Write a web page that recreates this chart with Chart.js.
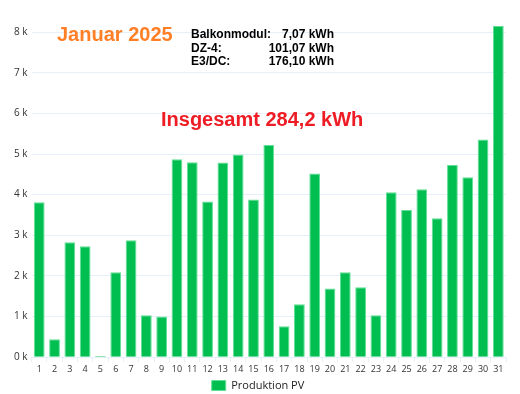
<!DOCTYPE html>
<html>
<head>
<meta charset="utf-8">
<script src="https://cdn.jsdelivr.net/npm/chart.js@4"></script>
<style>
  body { margin: 0; background: #fff; }
  #wrap { width: 520px; height: 394px; position: relative; }
</style>
</head>
<body>
<div id="wrap"><canvas id="barCanvas"></canvas></div>
<script>
// Tage im Januar
let tage = ["1","2","3","4","5","6","7","8","9","10","11","12","13","14","15","16",
            "17","18","19","20","21","22","23","24","25","26","27","28","29","30","31"]

// Produktion PV in Wh
let produktion = [3810, 440, 2830, 2730, 30, 2090, 2880, 1030, 1000, 4870, 4800, 3830, 4790, 4990, 3880, 5220,
                  760, 1300, 4520, 1690, 2090, 1720, 1030, 4060, 3620, 4130, 3420, 4730, 4430, 5360, 8150]

// Striche der y-Achse
let yTicks = [0, 1000, 2000, 3000, 4000, 5000, 6000, 7000, 8000]

let ueberschrift = "Januar 2025"
let gesamt = "Insgesamt 284,2 kWh"
let quellen = ["Balkonmodul:", "DZ-4:", "E3/DC:"]
let quellenWerte = ["7,07 kWh", "101,07 kWh", "176,10 kWh"]

let gruen = "#00bf50"
let gitter = "#e6f0fb"

// Texte oben im Diagramm
let textPlugin = {
    id: "texte",
    afterDraw(chart) {
        let ctx = chart.ctx
        ctx.save()
        ctx.textBaseline = "alphabetic"

        ctx.font = "bold 20px 'Liberation Sans', Arial, sans-serif"
        ctx.fillStyle = "#ff7f27"
        ctx.textAlign = "left"
        ctx.fillText(ueberschrift, 57, 41)

        ctx.font = "bold 12px 'Liberation Sans', Arial, sans-serif"
        ctx.fillStyle = "#000"
        for (let i = 0; i < quellen.length; i++) {
            let y = 38 + i * 13.7
            ctx.textAlign = "left"
            ctx.fillText(quellen[i], 191, y)
            ctx.textAlign = "right"
            ctx.fillText(quellenWerte[i], 334, y)
        }

        ctx.font = "bold 20px 'Liberation Sans', Arial, sans-serif"
        ctx.fillStyle = "#ee1c25"
        ctx.textAlign = "left"
        ctx.fillText(gesamt, 161, 126)
        ctx.restore()
    }
}

let barCanvas = document.getElementById("barCanvas").getContext('2d')

let barChart = new Chart(barCanvas, {
    type: 'bar',
    data: {
        labels: tage,
        datasets: [{
            label: "Produktion PV",
            data: produktion,
            backgroundColor: gruen,
            borderColor: "#5fe096",
            borderWidth: 1,
            categoryPercentage: 0.8,
            barPercentage: 0.88
        }]
    },
    options: {
        responsive: true,
        maintainAspectRatio: false,
        animation: false,
        layout: {
            padding: { left: 10, right: 14, top: 26, bottom: -7 }
        },
        scales: {
            x: {
                grid: {
                    display: true,
                    drawOnChartArea: false,
                    color: gitter,
                    tickLength: 5
                },
                border: { color: gitter },
                ticks: {
                    color: "#333",
                    font: { family: "'Open Sans'", size: 9 },
                    padding: 2,
                    maxRotation: 0,
                    autoSkip: false
                }
            },
            y: {
                min: 0,
                max: Math.max(...produktion),
                afterBuildTicks: axis => {
                    axis.ticks = yTicks.map(v => ({ value: v }))
                },
                grid: {
                    color: gitter,
                    drawTicks: false
                },
                border: { display: false },
                ticks: {
                    color: "#333",
                    padding: 4,
                    font: { family: "'Open Sans'", size: 10 },
                    callback: v => (v / 1000) + " k"
                }
            }
        },
        plugins: {
            legend: {
                position: 'bottom',
                labels: {
                    boxWidth: 14,
                    boxHeight: 10,
                    color: "#222",
                    padding: 3,
                    font: { family: "'Open Sans'", size: 11 }
                }
            },
            tooltip: { enabled: false }
        }
    },
    plugins: [textPlugin]
})
</script>
</body>
</html>
